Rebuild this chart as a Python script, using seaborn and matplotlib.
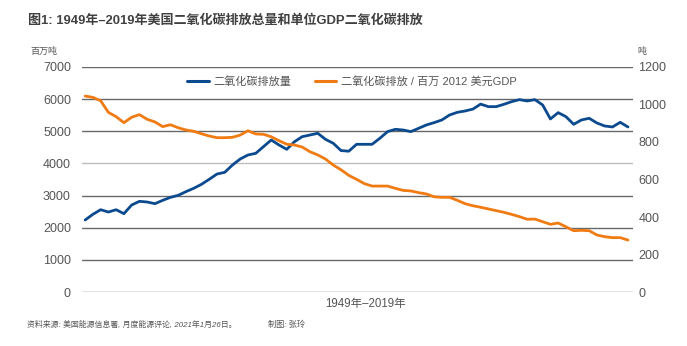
import matplotlib
matplotlib.use("Agg")
import matplotlib.pyplot as plt
import seaborn as sns
import pandas as pd
from matplotlib.lines import Line2D

years = list(range(1949, 2020))

# 二氧化碳排放量（百万吨）
co2_total = [
    2240, 2417, 2560, 2489, 2560, 2437, 2707, 2821, 2800, 2748,
    2852, 2945, 3008, 3122, 3226, 3350, 3506, 3670, 3723, 3951,
    4138, 4263, 4314, 4522, 4729, 4574, 4439, 4677, 4833, 4885,
    4937, 4750, 4626, 4400, 4380, 4595, 4595, 4595, 4781, 4989,
    5061, 5040, 4989, 5092, 5196, 5269, 5352, 5507, 5590, 5632,
    5690, 5845, 5766, 5766, 5839, 5922, 5984, 5943, 5984, 5818,
    5383, 5580, 5455, 5217, 5352, 5404, 5258, 5165, 5134, 5279,
    5134,
]

# 二氧化碳排放/百万2012美元GDP（吨）
co2_per_gdp = [
    1045, 1038, 1020, 958, 935, 903, 932, 946, 921, 907,
    882, 892, 876, 864, 857, 844, 832, 823, 823, 825,
    837, 860, 843, 841, 828, 807, 788, 784, 773, 748,
    731, 709, 677, 652, 622, 601, 578, 565, 565, 565,
    553, 542, 539, 530, 523, 508, 505, 505, 489, 471,
    460, 452, 443, 434, 425, 414, 402, 388, 389, 375,
    361, 368, 348, 327, 329, 327, 304, 295, 290, 290,
    277,
]

left_ticks = [0, 1000, 2000, 3000, 4000, 5000, 6000, 7000]
right_ticks = [0, 200, 400, 600, 800, 1000, 1200]

label_total = "二氧化碳排放量"
label_gdp = "二氧化碳排放 / 百万 2012 美元GDP"
title = "图1: 1949年–2019年美国二氧化碳排放总量和单位GDP二氧化碳排放"
source_main = "资料来源: 美国能源信息署, 月度能源评论, 2021年1月26日。"
source_author = "制图: 张玲"

df = pd.DataFrame({"year": years, "total": co2_total, "per_gdp": co2_per_gdp})

sns.set_theme(style="white")
plt.rcParams["font.family"] = ["Liberation Sans", "Noto Sans CJK SC", "DejaVu Sans"]

BLUE = "#0b4a8e"
ORANGE = "#f07b12"
TXT = "#555555"

fig = plt.figure(figsize=(6.87, 3.46), dpi=100)
ax = fig.add_axes([0.1194, 0.156, 0.802, 0.6504])
ax2 = ax.twinx()

sns.lineplot(data=df, x="year", y="total", ax=ax, color=BLUE, linewidth=2.0, zorder=3)
sns.lineplot(data=df, x="year", y="per_gdp", ax=ax2, color=ORANGE, linewidth=2.0, zorder=3)

ax.set_xlim(1949 - 0.4, 2019 + 0.65)
ax.set_ylim(0, 7000)
ax2.set_ylim(0, 1200)
ax.set_yticks(left_ticks)
ax2.set_yticks(right_ticks)
ax.set_xticks([])
ax.set_xlabel("1949年–2019年", fontsize=8.3, color=TXT, labelpad=3)
ax.xaxis.set_label_coords(0.515, -0.025, transform=ax.transAxes)
ax.xaxis.label.set_verticalalignment("top")
ax.set_ylabel("")
ax2.set_ylabel("")

for a in (ax, ax2):
    for s in a.spines.values():
        s.set_visible(False)
ax.tick_params(axis="y", length=0, pad=8, labelsize=9, labelcolor=TXT)
ax2.tick_params(axis="y", length=0, pad=4, labelsize=9, labelcolor=TXT)

# horizontal grid lines on the left scale
for v in left_ticks:
    ax.axhline(v, color="#bdbdbd" if v == 4000 else "#676767", linewidth=1.0, zorder=1)

handles = [Line2D([0], [0], color=BLUE, lw=2.2), Line2D([0], [0], color=ORANGE, lw=2.2)]
leg = ax.legend(handles, [label_total, label_gdp], loc="center", bbox_to_anchor=(0.49, 0.935),
                ncol=2, frameon=False, fontsize=8, handlelength=1.9, handletextpad=0.45,
                columnspacing=2.1)
for t in leg.get_texts():
    t.set_color(TXT)

fig.text(0.041, 0.94, title, fontsize=9.4, fontweight="bold", color="#404040", va="center")
fig.text(0.044, 0.852, "百万吨", fontsize=6.5, color=TXT, va="center")
fig.text(0.928, 0.852, "吨", fontsize=6.5, color=TXT, va="center")
fig.text(0.039, 0.06, source_main, fontsize=5.7, color=TXT, va="center", style="italic")
fig.text(0.390, 0.06, source_author, fontsize=5.9, color=TXT, va="center", style="italic")

fig.savefig("out.png", dpi=100)
